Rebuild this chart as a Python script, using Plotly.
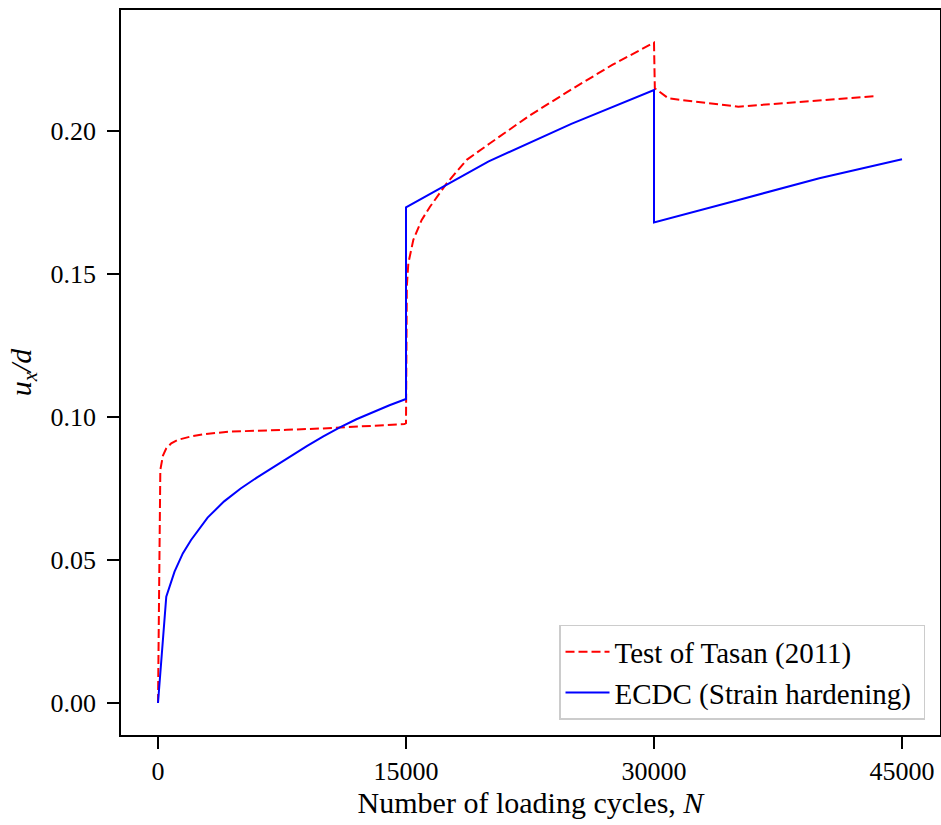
import plotly.graph_objects as go

# Test of Tasan (2011)
test_N = [0, 60, 140, 300, 500, 800, 1200, 2000, 2800, 4400, 6000, 7800, 10000, 11900, 14900, 15000,
          15050, 15140, 15440, 15950, 16450, 17460, 18670, 20080, 21000, 22500, 25000, 27500, 30000,
          30050, 30870, 35100, 43370]
test_u = [0.0, 0.05, 0.0815, 0.0865, 0.089, 0.0908, 0.092, 0.0932, 0.094, 0.0949, 0.0951, 0.0955, 0.096, 0.0966, 0.0975, 0.0978,
          0.1456, 0.1537, 0.1619, 0.1689, 0.1735, 0.1817, 0.1899, 0.1957, 0.1995, 0.2055, 0.2145, 0.2232, 0.2309,
          0.2149, 0.2114, 0.2085, 0.2122]

# ECDC (Strain hardening)
ecdc_N = [0, 500, 1000, 1500, 2000, 3000, 4000, 5000, 6000, 7000, 8000, 9000, 10000, 11000, 12000, 13000, 14000, 15000,
          15000, 20000, 25000, 30000, 30000, 35000, 40000, 45000]
ecdc_u = [0.0, 0.0372, 0.0459, 0.0523, 0.057, 0.0648, 0.0705, 0.075, 0.0789, 0.0826, 0.0863, 0.0898, 0.0932, 0.0964, 0.0992, 0.1017, 0.1041, 0.1063,
          0.1733, 0.1894, 0.2025, 0.2143, 0.168, 0.1757, 0.1835, 0.1901]

x_ticks = [0, 15000, 30000, 45000]
y_ticks = [0.0, 0.05, 0.10, 0.15, 0.20]
y_tick_labels = ["0.00", "0.05", "0.10", "0.15", "0.20"]

FONT = "Liberation Serif"

fig = go.Figure()
fig.add_trace(go.Scatter(x=test_N, y=test_u, mode="lines", name="Test of Tasan (2011)\u00a0",
                         line=dict(color="#ff0000", width=2, dash="9px,4px")))
fig.add_trace(go.Scatter(x=ecdc_N, y=ecdc_u, mode="lines", name="ECDC (Strain hardening)\u00a0",
                         line=dict(color="#0000ff", width=2)))

axis_common = dict(showgrid=False, zeroline=False, showline=True, linecolor="black", linewidth=1.5,
                   mirror=True, ticks="outside", ticklen=12, tickwidth=1.5, tickcolor="black",
                   automargin=False,
                   tickfont=dict(family=FONT, size=26, color="black"))

fig.update_xaxes(range=[-2238, 47298], tickvals=x_ticks, ticktext=[str(v) for v in x_ticks],
                 ticklabelstandoff=0,
                 title=dict(text="Number of loading cycles, <i>N</i>", font=dict(family=FONT, size=30, color="black"),
                            standoff=0),
                 **axis_common)
fig.update_yaxes(range=[-0.0112, 0.2423], tickvals=y_ticks, ticktext=y_tick_labels,
                 ticklabelstandoff=6,
                 title=dict(text="<i>u<sub>x</sub>/d</i>", font=dict(family=FONT, size=30, color="black"),
                            standoff=10),
                 **axis_common)

fig.update_layout(
    width=941, height=825,
    margin=dict(l=121, r=1, t=10, b=90),
    paper_bgcolor="white", plot_bgcolor="white",
    font=dict(family=FONT, color="black"),
    legend=dict(x=0.9817, y=0.0207, xanchor="right", yanchor="bottom",
                bgcolor="rgba(255,255,255,0.9)", bordercolor="#cccccc", borderwidth=1.5,
                font=dict(family=FONT, size=29, color="black"),
                itemwidth=44, tracegroupgap=0),
    showlegend=True,
)

fig.write_html("out.html", config={"displayModeBar": False},
               post_script="document.body.style.margin='0px';document.body.style.overflow='hidden';")
